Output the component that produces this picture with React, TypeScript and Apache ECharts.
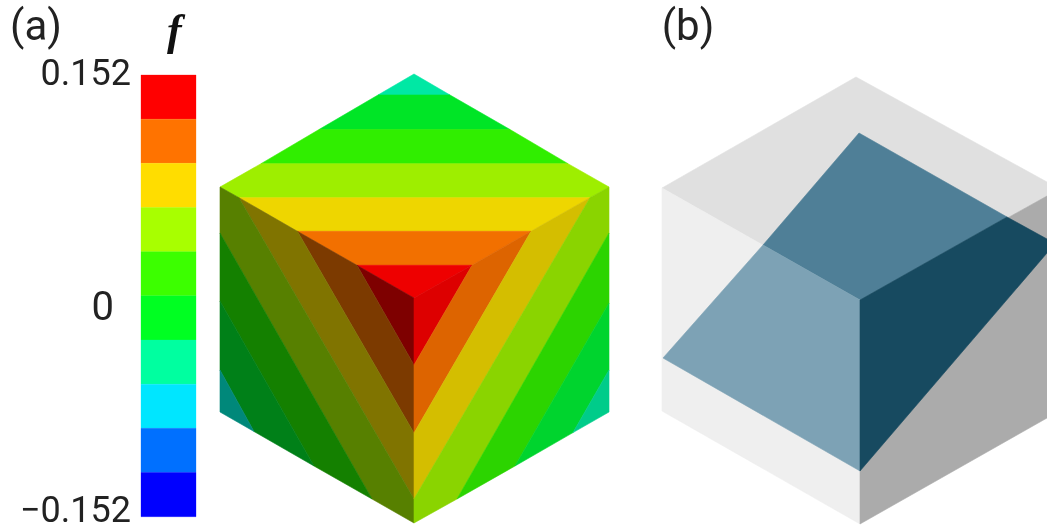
import React, { useEffect, useRef } from "react";
import * as echarts from "echarts";

type Pt = [number, number];

// colour bar: level edges of the 10 bands, top to bottom, and band colours
const barLevels = [0.152, 0.1216, 0.0912, 0.0608, 0.0304, 0, -0.0304, -0.0608, -0.0912, -0.1216, -0.152];
const barColors = ["#ff0000", "#ff7300", "#ffdd00", "#a8ff00", "#3cff00", "#00ff22", "#00ffa0", "#00e6ff", "#0070ff", "#0000ff"];
const barTickLabels = ["0.152", "0", "\u22120.152"];
const panelLabels = ["(a)", "(b)"];
const barTitle = "f";

// panel (a): the three visible faces, each split in bands of constant f
const topBands: Pt[][] = [
  [[414, 74], [450, 95], [378, 95]],
  [[378, 95], [450, 95], [510, 129.5], [319, 129.5]],
  [[319, 129.5], [510, 129.5], [568, 163.7], [261, 163.7]],
  [[261, 163.7], [568, 163.7], [609, 187], [590, 197.7], [239, 197.7], [220, 187]],
  [[239, 197.7], [590, 197.7], [531, 231.3], [297.4, 231.3]],
  [[297.4, 231.3], [531, 231.3], [472, 265.3], [357, 265.3]],
  [[357, 265.3], [472, 265.3], [414, 298]],
];
const topColors = ["#00e8a4", "#00e526", "#30ee00", "#9eee00", "#eed600", "#f27000", "#ee0000"];

const leftBands: Pt[][] = [
  [[357, 265.3], [414, 298], [414, 365]],
  [[297.4, 231.3], [357, 265.3], [414, 365], [414, 433]],
  [[239, 197.7], [297.4, 231.3], [414, 433], [414, 499]],
  [[220, 187], [239, 197.7], [414, 499], [414, 523], [372, 499], [220, 233]],
  [[220, 233], [372, 499], [314, 466], [220, 301]],
  [[220, 301], [314, 466], [254, 431.5], [220, 370]],
  [[220, 370], [254, 431.5], [220, 412]],
];
const leftColors = ["#7e0000", "#7c3a00", "#807400", "#578000", "#148000", "#008018", "#00887a"];

const rightBands: Pt[][] = [
  [[472, 265.3], [414, 298], [414, 365]],
  [[531, 231.3], [472, 265.3], [414, 365], [414, 433]],
  [[590, 197.7], [531, 231.3], [414, 433], [414, 499]],
  [[609, 187], [590, 197.7], [414, 499], [414, 523], [457, 499], [609, 233]],
  [[609, 233], [457, 499], [515, 466], [609, 303]],
  [[609, 303], [515, 466], [573, 432.6], [609, 370]],
  [[609, 370], [573, 432.6], [609, 412]],
];
const rightColors = ["#dd0000", "#dd6400", "#d4be00", "#8ad400", "#2cd400", "#00d42e", "#00cc8a"];

// panel (b): grey cube and the section through it
const cubeFaces: Pt[][] = [
  [[856, 77], [1047, 182], [1047, 196], [860, 300], [662, 188]],
  [[662, 188], [860, 300], [860, 524], [662, 411]],
  [[860, 300], [1047, 196], [1047, 418], [860, 524]],
];
const cubeColors = ["#e0e0e0", "#efefef", "#ababab"];
const sectionFaces: Pt[][] = [
  [[859, 133], [1007, 217], [860, 300], [763, 245]],
  [[763, 245], [860, 300], [860, 471], [663, 358]],
  [[1007, 217], [1047, 239], [1047, 253], [860, 471], [860, 300]],
];
const sectionColors = ["#4f7f97", "#7da2b5", "#174a60"];

const polygons: Pt[][] = [...topBands, ...leftBands, ...rightBands, ...cubeFaces, ...sectionFaces];
const polygonColors: string[] = [...topColors, ...leftColors, ...rightColors, ...cubeColors, ...sectionColors];

export default function App() {
  const ref = useRef<HTMLDivElement>(null);
  useEffect(() => {
    const chart = echarts.init(ref.current!, undefined, { renderer: "svg" });
    const labelStyle = { fontFamily: "Roboto", fill: "#222222" };
    chart.setOption({
      animation: false,
      backgroundColor: "#ffffff",
      grid: [
        { left: 0, top: 0, width: 1047, height: 531 },
        { left: 141, top: 75, width: 55, height: 441.7 },
      ],
      xAxis: [
        { type: "value", gridIndex: 0, min: 0, max: 1047, show: false },
        { type: "value", gridIndex: 1, min: 0, max: 1, show: false },
      ],
      yAxis: [
        { type: "value", gridIndex: 0, min: 0, max: 531, inverse: true, show: false },
        { type: "value", gridIndex: 1, min: -0.152, max: 0.152, show: false },
      ],
      series: [
        {
          type: "custom",
          xAxisIndex: 1,
          yAxisIndex: 1,
          silent: true,
          clip: false,
          data: barColors.map((_, i) => [0, barLevels[i], 1, barLevels[i + 1]]),
          encode: { x: [0, 2], y: [1, 3] },
          renderItem: (_p: any, api: any) => {
            const a = api.coord([api.value(0), api.value(1)]);
            const b = api.coord([api.value(2), api.value(3)]);
            const c = barColors[_p.dataIndex];
            return {
              type: "rect",
              shape: { x: a[0], y: a[1], width: b[0] - a[0], height: b[1] - a[1] },
              style: { fill: c, stroke: c, lineWidth: 0.3 },
            };
          },
        },
        {
          type: "custom",
          xAxisIndex: 0,
          yAxisIndex: 0,
          silent: true,
          clip: true,
          data: polygons.map((_, i) => [i]),
          encode: { x: 0 },
          renderItem: (p: any, api: any) => {
            const c = polygonColors[p.dataIndex];
            return {
              type: "polygon",
              shape: { points: polygons[p.dataIndex].map((q) => api.coord(q)) },
              style: { fill: c, stroke: c, lineWidth: 0.6 },
            };
          },
        },
      ],
      graphic: [
        { type: "text", x: 36, y: 25, style: { ...labelStyle, text: panelLabels[0], fontSize: 42, textAlign: "center", textVerticalAlign: "middle" } },
        { type: "text", x: 688, y: 25, style: { ...labelStyle, text: panelLabels[1], fontSize: 42, textAlign: "center", textVerticalAlign: "middle" } },
        {
          type: "text",
          x: 167,
          y: 8,
          style: { text: barTitle, fontFamily: "Liberation Serif", fontStyle: "italic", fontWeight: "bold", fontSize: 44, fill: "#111111" },
        },
        { type: "text", x: 131, y: 73, style: { ...labelStyle, text: barTickLabels[0], fontSize: 36, textAlign: "right", textVerticalAlign: "middle" } },
        { type: "text", x: 114, y: 306, style: { ...labelStyle, text: barTickLabels[1], fontSize: 40, textAlign: "right", textVerticalAlign: "middle" } },
        { type: "text", x: 131, y: 510, style: { ...labelStyle, text: barTickLabels[2], fontSize: 36, textAlign: "right", textVerticalAlign: "middle" } },
      ],
    });
    return () => chart.dispose();
  }, []);
  return (
    <div
      ref={ref}
      style={{ position: "absolute", left: 0, top: 0, width: 1047, height: 531, filter: "blur(0.7px)" }}
    />
  );
}
